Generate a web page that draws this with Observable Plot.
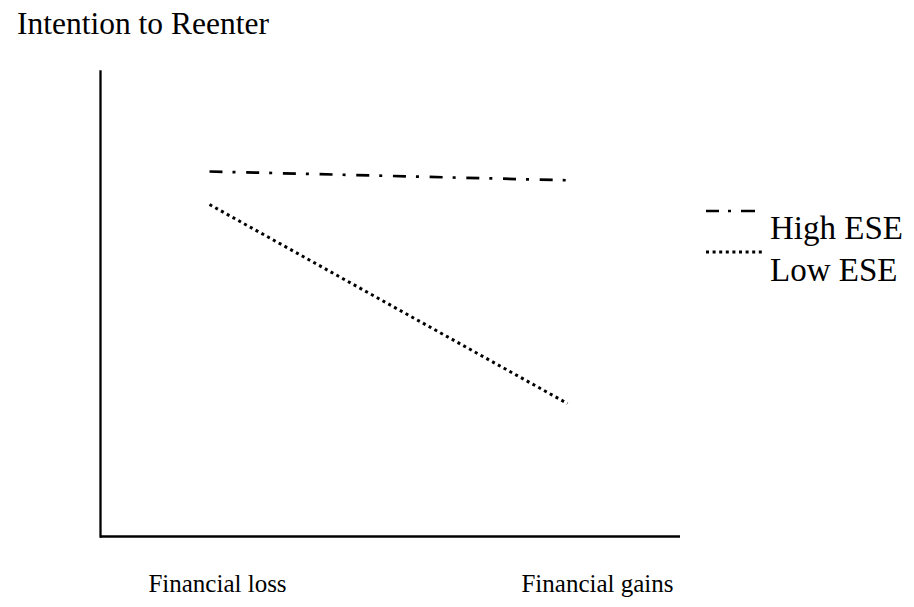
<!DOCTYPE html>
<html>
<head>
<meta charset="utf-8">
<script src="https://cdn.jsdelivr.net/npm/d3@7"></script>
<script src="https://cdn.jsdelivr.net/npm/@observablehq/plot@0.6"></script>
<style>
  html, body { margin: 0; padding: 0; background: #fff; }
  #wrap { position: relative; width: 914px; height: 607px; font-family: "Liberation Serif", serif; color: #000; }
  #title { height: 40px; line-height: 40px; padding-left: 17px; padding-top: 4px; box-sizing: border-box; font-size: 31.5px; white-space: nowrap; }
  #legend { position: absolute; left: 0; top: 0; pointer-events: none; }
  svg text { font-family: "Liberation Serif", serif; }
</style>
</head>
<body>
<div id="wrap">
  <div id="title"></div>
  <div id="chart"></div>
  <svg id="legend" width="914" height="607"></svg>
</div>
<script>
const titleText = "Intention to Reenter";
const categories = ["Financial loss", "Financial gains"];
const highESE = [7.85, 7.66];
const lowESE = [7.14, 2.86];
const seriesNames = ["High ESE", "Low ESE"];

const rows = [];
categories.forEach((c, i) => rows.push({cond: c, value: highESE[i], series: seriesNames[0]}));
categories.forEach((c, i) => rows.push({cond: c, value: lowESE[i], series: seriesNames[1]}));

document.getElementById("title").textContent = titleText;

const serif = "Liberation Serif, serif";
const dashDot = "13,10,3,10.7";
const dotted = "3,3.6";

const chart = Plot.plot({
  width: 914,
  height: 567,
  marginTop: 31,
  marginBottom: 71,
  marginLeft: 100,
  marginRight: 234,
  style: {fontFamily: serif, background: "#fff", color: "#000"},
  x: {type: "point", domain: categories, padding: 0.308, align: 0.49, axis: null},
  y: {domain: [0, 10], axis: null},
  marks: [
    Plot.frame({anchor: "left", stroke: "#000", strokeWidth: 2.3}),
    Plot.ruleY([0], {stroke: "#000", strokeWidth: 2.3}),
    Plot.line(rows.filter(d => d.series === seriesNames[0]), {x: "cond", y: "value", stroke: "#000", strokeWidth: 2.7, strokeDasharray: dashDot, strokeLinecap: "butt"}),
    Plot.line(rows.filter(d => d.series === seriesNames[1]), {x: "cond", y: "value", stroke: "#000", strokeWidth: 3, strokeDasharray: dotted, strokeLinecap: "butt"}),
    Plot.text([categories[0]], {x: d => d, frameAnchor: "bottom", lineAnchor: "bottom", dy: 55, dx: 8, text: d => d, fontSize: 25, fontFamily: serif, fill: "#000"}),
    Plot.text([categories[1]], {x: d => d, frameAnchor: "bottom", lineAnchor: "bottom", dy: 55, dx: 30, text: d => d, fontSize: 25, fontFamily: serif, fill: "#000"})
  ]
});
document.getElementById("chart").appendChild(chart);

// Legend (right side)
const lg = d3.select("#legend");
const legendItems = [
  {name: seriesNames[0], dash: "13,9,3,10,14", w: 2.7, y: 211, x2: 758, ty: 239},
  {name: seriesNames[1], dash: dotted, w: 3, y: 252, x2: 762, ty: 281}
];
legendItems.forEach(it => {
  lg.append("line").attr("x1", 706).attr("x2", it.x2).attr("y1", it.y).attr("y2", it.y)
    .attr("stroke", "#000").attr("stroke-width", it.w).attr("stroke-dasharray", it.dash);
  lg.append("text").attr("x", 770).attr("y", it.ty).attr("font-size", 33)
    .attr("font-family", serif).attr("fill", "#000").text(it.name);
});
</script>
</body>
</html>
